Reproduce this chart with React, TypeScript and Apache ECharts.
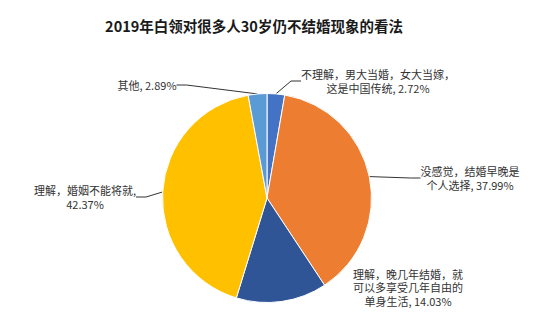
import React, { useEffect, useRef } from "react";
import * as echarts from "echarts";

const titleText = "2019年白领对很多人30岁仍不结婚现象的看法";
const categories = [
  "不理解，男大当婚，女大当嫁，\n这是中国传统",
  "没感觉，结婚早晚是\n个人选择",
  "理解，晚几年结婚，就\n可以多享受几年自由的\n单身生活",
  "理解，婚姻不能将就",
  "其他",
];
const values = [2.72, 37.99, 14.03, 42.37, 2.89];
const colors = ["#4472C4", "#ED7D31", "#2F5597", "#FFC000", "#5B9BD5"];

// label centre positions (layout only)
const labelPos: [number, number][] = [
  [378, 81],
  [470, 178],
  [408, 287],
  [85, 197],
  [147, 85],
];

export default function App() {
  const ref = useRef<HTMLDivElement>(null);
  useEffect(() => {
    document.body.style.margin = "0";
    if (!ref.current) return;
    const chart = echarts.init(ref.current, null, { renderer: "svg" });
    const font = '"Noto Sans CJK SC", "Noto Sans", sans-serif';
    chart.setOption({
      animation: false,
      backgroundColor: "#ffffff",
      graphic: [
        {
          type: "text",
          x: 254,
          y: 25,
          style: {
            text: titleText,
            fontFamily: font,
            fontSize: 14.5,
            fontWeight: "bold",
            fill: "#1a1a1a",
            align: "center",
            verticalAlign: "middle",
          },
        },
      ],
      series: [
        {
          type: "pie",
          center: [267, 198],
          radius: 104.5,
          startAngle: 90,
          clockwise: true,
          avoidLabelOverlap: false,
          itemStyle: { borderColor: "#ffffff", borderWidth: 1 },
          label: {
            show: true,
            fontFamily: font,
            fontSize: 11,
            lineHeight: 13.5,
            color: "#333333",
            align: "center",
            formatter: (p: any) =>
              p.dataIndex === 3
                ? `${p.name},\n${p.value.toFixed(2)}%`
                : `${p.name}, ${p.value.toFixed(2)}%`,
          },
          labelLine: {
            show: true,
            length: 10,
            length2: 10,
            lineStyle: { color: "#333333", width: 1 },
          },
          labelLayout: (p: any) => {
            const pos = labelPos[p.dataIndex];
            return {
              x: pos[0],
              y: pos[1],
              align: "center",
              verticalAlign: "middle",
            };
          },
          data: categories.map((name, i) => ({
            name,
            value: values[i],
            itemStyle: { color: colors[i] },
            labelLine: { show: i !== 2 },
          })),
        },
      ],
    });
    return () => chart.dispose();
  }, []);
  return <div ref={ref} style={{ width: 550, height: 323 }} />;
}
